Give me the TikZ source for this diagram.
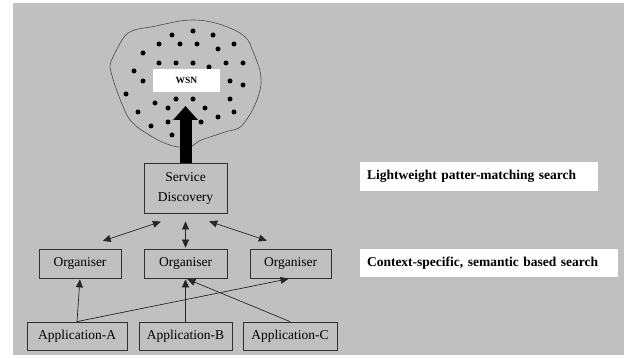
\documentclass[tikz,border=0pt]{standalone}
\usepackage{fontspec}
\setmainfont{Liberation Serif}
\usetikzlibrary{arrows.meta}
\definecolor{bggray}{HTML}{C0C0C0}
\definecolor{edgecol}{HTML}{303030}
\begin{document}
\begin{tikzpicture}[x=1pt,y=-1pt,
  box/.style={draw=edgecol, line width=0.8pt, rectangle, inner sep=0pt, align=center,
    font=\fontsize{13.5}{20}\selectfont},
  labelbox/.style={fill=white, rectangle, inner xsep=7pt, inner ysep=0pt, align=left,
    font=\fontsize{13.5}{16}\selectfont\bfseries},
  link/.style={draw=black!85, line width=0.7pt},
  tipend/.style={-{Triangle[length=8pt,width=7pt]}},
  bothends/.style={{Triangle[length=8pt,width=7pt]}-{Triangle[length=8pt,width=7pt]}},
  sensor/.style={fill=black},
]
\useasboundingbox (0,0) rectangle (624,358);
\fill[white] (0,0) rectangle (624,358);
\fill[bggray] (13,3) rectangle (624,355);

% cloud (WSN area)
\draw[draw=black!70, line width=0.6pt] plot[smooth cycle, tension=0.6] coordinates {
 (110,66) (113,57) (117,49) (122,40) (128,33) (138,29) (151,27) (165,24) (180,21) (193,20)
 (206,21) (219,24) (230,28) (240,33) (248,40) (252,49) (256,59) (260,71) (261,84) (258,97)
 (253,109) (247,119) (239,128) (225,132) (210,137) (199,141) (190,147) (178,147) (167,144)
 (156,139) (146,133) (136,126) (128,117) (122,104) (117,91) (113,79)};

% sensor dots
\foreach \p in {(172,35),(193,31),(213,35),(159,44),(180,44),(197,44),(218,49),(234,44),
  (143,53),(159,63),(176,63),(193,63),(209,67),(226,63),(243,63),(134,71),(143,81),
  (230,81),(243,85),(126,94),(155,103),(176,99),(193,99),(230,99),(168,108),(205,108),
  (138,112),(234,112),(218,117),(168,122),(201,122),(151,126),(172,135)}
  \fill[sensor] \p circle (2.5pt);

\node[fill=white, minimum width=67pt, minimum height=23pt, inner sep=0pt,
  font=\fontsize{9.5}{11}\selectfont\bfseries] (wsn) at (186.5,80.5) {WSN};

% boxes
\node[box, minimum width=83pt, minimum height=50pt] (sd) at (185.5,188) {Service\\Discovery};
\node[box, minimum width=82pt, minimum height=29pt] (orgL) at (80,263.5) {Organiser};
\node[box, minimum width=83pt, minimum height=29pt] (orgM) at (185.5,263.5) {Organiser};
\node[box, minimum width=81pt, minimum height=29pt] (orgR) at (290.5,263.5) {Organiser};
\node[box, minimum width=100pt, minimum height=28pt] (appA) at (77,336) {Application-A};
\node[box, minimum width=93pt, minimum height=28pt] (appB) at (185.5,336) {Application-B};
\node[box, minimum width=94pt, minimum height=28pt] (appC) at (290,336) {Application-C};

% right labels
\node[labelbox, text width=224pt, minimum height=29pt] (lw) at (479,176.5) {Lightweight patter-matching search};
\node[labelbox, text width=244pt, minimum height=28pt] (cs) at (489,263) {Context-specific, semantic based search};

% thick arrow to the WSN
\coordinate (wsntip) at (185.5,106);
\draw[black, line width=12pt, -{Triangle[length=14pt,width=24pt]}] (sd.north) -- (wsntip);

% discovery <-> organisers
\draw[link, bothends, shorten <=26pt, shorten >=24pt] (sd.south) -- (orgL.north);
\draw[link, bothends, shorten <=8pt, shorten >=1pt] (sd.south) -- (orgM.north);
\draw[link, bothends, shorten <=25pt, shorten >=25pt] (sd.south) -- (orgR.north);

% applications -> organisers
\draw[link, tipend, shorten >=1pt] (appA.north) -- (orgL.south);
\draw[link, tipend, shorten >=2pt] (appA.north) -- (orgR.south);
\draw[link, tipend, shorten >=1pt] (appB.north) -- (orgM.south);
\draw[link, tipend, shorten >=2pt] (appC.north) -- (orgM.south);
\end{tikzpicture}
\end{document}
